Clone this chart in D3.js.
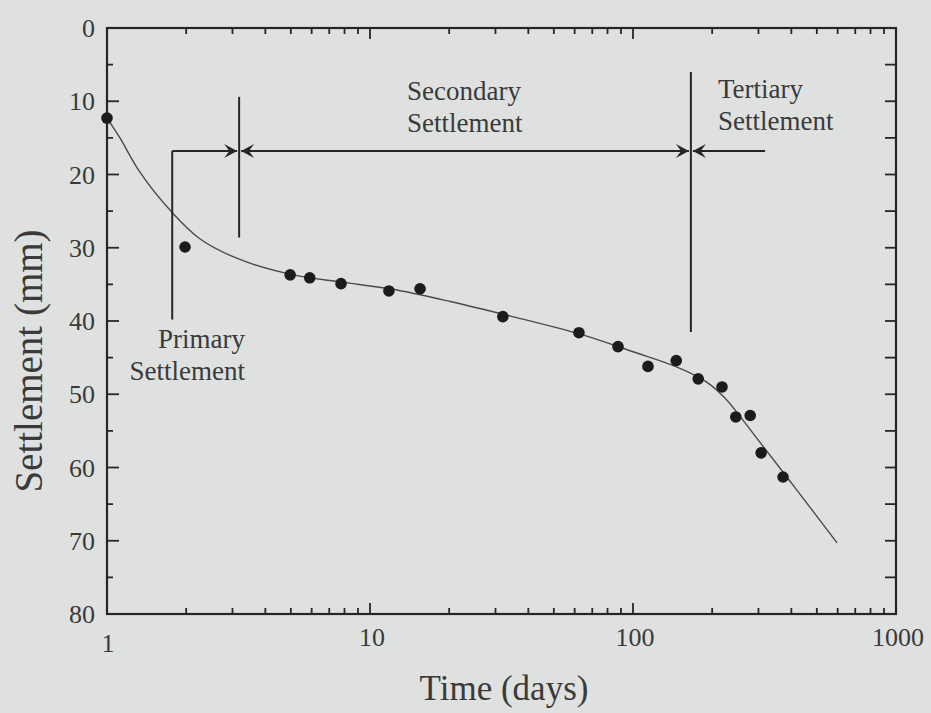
<!DOCTYPE html>
<html>
<head>
<meta charset="utf-8">
<script src="https://cdn.jsdelivr.net/npm/d3@7"></script>
<style>
  html, body { margin: 0; padding: 0; background: #dfe1e0; }
  svg { display: block; }
  text { font-family: "Liberation Serif", "Times New Roman", serif; fill: #3a3a3a; }
</style>
</head>
<body>
<svg width="931" height="713"></svg>
<script>
// measured points (time in days, settlement in mm)
const timeDays = [1, 1.98, 4.97, 5.9, 7.76, 11.8, 15.5, 32, 62.3, 87.7, 114, 146, 177, 218, 246, 279, 307, 372];
const settlementMm = [12.3, 29.9, 33.7, 34.1, 34.9, 35.9, 35.6, 39.4, 41.6, 43.5, 46.2, 45.4, 47.9, 49.0, 53.1, 52.9, 58.0, 61.3];

// fitted curve
const fitTime = [1, 1.12, 1.33, 1.77, 2.26, 3.2, 4.96, 7.8, 11.9, 20, 34, 63, 100, 147, 190, 225, 260, 300, 400, 597];
const fitSettle = [12.3, 15.0, 19.6, 25.2, 28.8, 31.6, 33.6, 34.7, 35.6, 37.3, 39.3, 41.8, 44.2, 46.3, 48.3, 50.6, 53.4, 56.3, 62.1, 70.3];

// stage boundaries (days) and the levels of the bracket lines (mm)
const boundaryT = [1.77, 3.18, 166];
const boundaryTop = [16.8, 9.4, 6.0];
const boundaryBottom = [39.8, 28.6, 41.5];
const arrowLevel = 16.8;
const tertiaryEnd = 318;

const xTickLabels = [1, 10, 100, 1000];
const yTickLabels = [0, 10, 20, 30, 40, 50, 60, 70, 80];

const svg = d3.select("svg");

const x = d3.scaleLog().domain([1, 1000]).range([107, 896]);
const y = d3.scaleLinear().domain([0, 80]).range([28, 614]);

const ink = "#262626";

// ---- frame ----
svg.append("rect")
  .attr("x", x(1)).attr("y", y(0))
  .attr("width", x(1000) - x(1)).attr("height", y(80) - y(0))
  .attr("fill", "none").attr("stroke", ink).attr("stroke-width", 2.2);

// log ticks on top and bottom
const logTicks = [];
for (let d = 1; d < 1000; d *= 10) {
  for (let k = 1; k <= 10; k++) logTicks.push(d * k);
}
const uniq = Array.from(new Set(logTicks)).filter(v => v > 1 && v < 1000);
const isMajor = v => [10, 100].includes(v);

svg.append("g").selectAll("line")
  .data(uniq).enter().append("line")
  .attr("x1", d => x(d)).attr("x2", d => x(d))
  .attr("y1", y(80)).attr("y2", d => y(80) - (isMajor(d) ? 11 : 6))
  .attr("stroke", ink).attr("stroke-width", 1.8);
svg.append("g").selectAll("line")
  .data(uniq).enter().append("line")
  .attr("x1", d => x(d)).attr("x2", d => x(d))
  .attr("y1", y(0)).attr("y2", d => y(0) + (isMajor(d) ? 11 : 6))
  .attr("stroke", ink).attr("stroke-width", 1.8);

// y ticks: left majors every 10, minors at 5s; right every 5
const yAll = d3.range(5, 80, 5);
svg.append("g").selectAll("line")
  .data(yAll).enter().append("line")
  .attr("x1", x(1)).attr("x2", d => x(1) + (d % 10 === 0 ? 12 : 6))
  .attr("y1", d => y(d)).attr("y2", d => y(d))
  .attr("stroke", ink).attr("stroke-width", 1.8);
svg.append("g").selectAll("line")
  .data(yAll).enter().append("line")
  .attr("x1", x(1000)).attr("x2", x(1000) - 11)
  .attr("y1", d => y(d)).attr("y2", d => y(d))
  .attr("stroke", ink).attr("stroke-width", 1.8);

// tick labels
svg.append("g").selectAll("text")
  .data(yTickLabels).enter().append("text")
  .attr("x", 95).attr("y", d => y(d)).attr("dy", "0.35em")
  .attr("text-anchor", "end").attr("font-size", 26)
  .text(d => d);
svg.append("g").selectAll("text")
  .data(xTickLabels).enter().append("text")
  .attr("x", d => x(d) + (d === 1 ? 1 : 2)).attr("y", d => d === 1 ? 652 : 646)
  .attr("text-anchor", "middle").attr("font-size", 26)
  .text(d => d);

// axis titles
svg.append("text")
  .attr("x", 504).attr("y", 700)
  .attr("text-anchor", "middle").attr("font-size", 35)
  .text("Time (days)");
svg.append("text")
  .attr("transform", "translate(42,361) rotate(-90)")
  .attr("text-anchor", "middle").attr("font-size", 39)
  .text("Settlement (mm)");

// ---- fitted curve ----
const fit = fitTime.map((t, i) => [t, fitSettle[i]]);
svg.append("path")
  .datum(fit)
  .attr("d", d3.line().x(d => x(d[0])).y(d => y(d[1])).curve(d3.curveCatmullRom.alpha(0.5)))
  .attr("fill", "none").attr("stroke", "#4a4a4a").attr("stroke-width", 1.4);

// ---- data points ----
svg.append("g").selectAll("circle")
  .data(timeDays.map((t, i) => [t, settlementMm[i]]))
  .enter().append("circle")
  .attr("cx", d => x(d[0])).attr("cy", d => y(d[1]))
  .attr("r", 5.8).attr("fill", "#1b1b1b");

// ---- stage brackets ----
const g = svg.append("g").attr("stroke", ink).attr("stroke-width", 2);
boundaryT.forEach((t, i) => {
  g.append("line")
    .attr("x1", x(t)).attr("x2", x(t))
    .attr("y1", y(boundaryTop[i])).attr("y2", y(boundaryBottom[i]));
});
// horizontal lines
g.append("line")
  .attr("x1", x(boundaryT[0])).attr("x2", x(boundaryT[1]) - 2)
  .attr("y1", y(arrowLevel)).attr("y2", y(arrowLevel));
g.append("line")
  .attr("x1", x(boundaryT[1]) + 2).attr("x2", x(boundaryT[2]) - 2)
  .attr("y1", y(arrowLevel)).attr("y2", y(arrowLevel));
g.append("line")
  .attr("x1", x(boundaryT[2]) + 2).attr("x2", x(tertiaryEnd))
  .attr("y1", y(arrowLevel)).attr("y2", y(arrowLevel));

function arrowHead(tipX, tipY, dir) {
  const L = 13, W = 7;
  return `M${tipX},${tipY} L${tipX - dir * L},${tipY - W} L${tipX - dir * L * 0.6},${tipY} L${tipX - dir * L},${tipY + W} Z`;
}
const heads = [
  [x(boundaryT[1]) - 2, 1],
  [x(boundaryT[1]) + 2, -1],
  [x(boundaryT[2]) - 2, 1],
  [x(boundaryT[2]) + 2, -1]
];
svg.append("g").selectAll("path")
  .data(heads).enter().append("path")
  .attr("d", d => arrowHead(d[0], y(arrowLevel), d[1]))
  .attr("fill", ink);

// ---- stage labels ----
const labels = [
  { text: ["Primary", "Settlement"], x: 245, y: 348, anchor: "end" },
  { text: ["Secondary", "Settlement"], x: 407, y: 100, anchor: "start" },
  { text: ["Tertiary", "Settlement"], x: 718, y: 98, anchor: "start" }
];
labels.forEach(l => {
  const t = svg.append("text")
    .attr("x", l.x).attr("y", l.y)
    .attr("text-anchor", l.anchor).attr("font-size", 27);
  l.text.forEach((s, i) => {
    t.append("tspan").attr("x", l.x).attr("dy", i === 0 ? 0 : 32).text(s);
  });
});
</script>
</body>
</html>
